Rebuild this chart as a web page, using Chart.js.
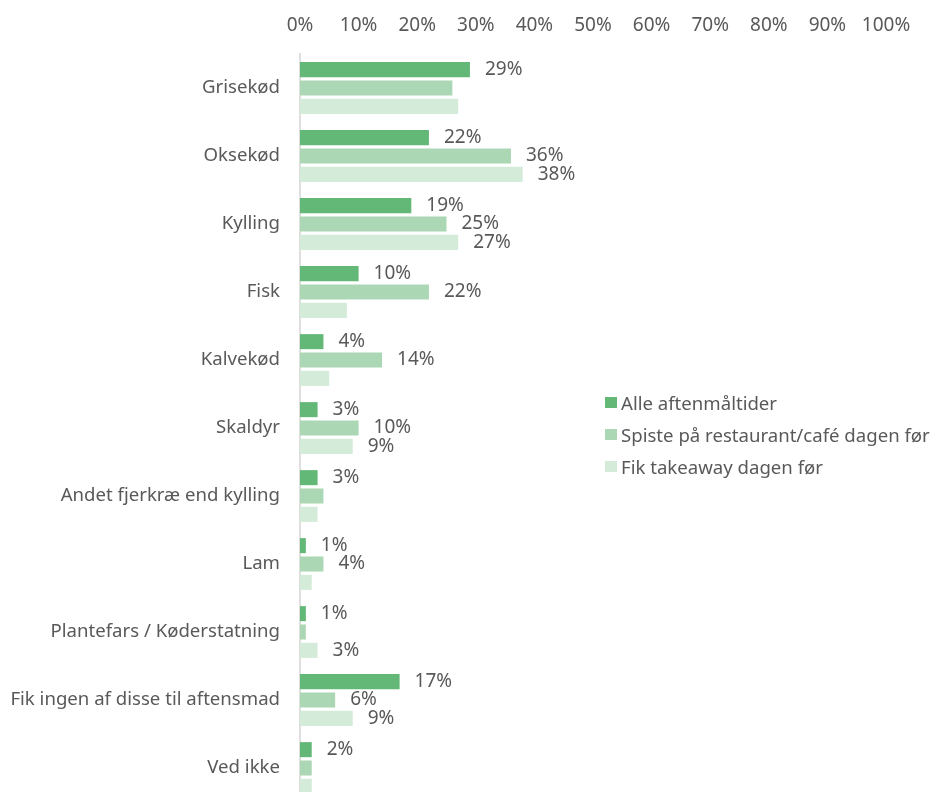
<!DOCTYPE html>
<html lang="da">
<head>
<meta charset="utf-8">
<title>Kødtyper til aftensmad</title>
<script src="https://cdn.jsdelivr.net/npm/chart.js@4.4.1/dist/chart.umd.min.js"></script>
<style>
    html, body { margin: 0; padding: 0; background: #fff; overflow: hidden; }
    #wrap { position: relative; width: 936px; height: 805px; }
    #legend {
        position: absolute; left: 605px; top: 386px;
        font-family: "Noto Sans", sans-serif; font-size: 18.6px; color: #595959;
        white-space: nowrap;
    }
    #legend .item { display: flex; align-items: center; height: 32px; }
    #legend .box { width: 12px; height: 11px; margin-right: 4px; }
</style>
</head>
<body>
<div id="wrap">
    <canvas id="chart" width="936" height="805"></canvas>
    <div id="legend"></div>
</div>
<script>
// 数据
const categories = [
    'Grisekød', 'Oksekød', 'Kylling', 'Fisk', 'Kalvekød', 'Skaldyr',
    'Andet fjerkræ end kylling', 'Lam', 'Plantefars / Køderstatning',
    'Fik ingen af disse til aftensmad', 'Ved ikke'
];
const seriesNames = ['Alle aftenmåltider', 'Spiste på restaurant/café dagen før', 'Fik takeaway dagen før'];
const alleValues       = [29, 22, 19, 10, 4, 3, 3, 1, 1, 17, 2];
const restaurantValues = [26, 36, 25, 22, 14, 10, 4, 4, 1, 6, 2];
const takeawayValues   = [27, 38, 27, 8, 5, 9, 3, 2, 3, 9, 2];
// which bars carry a value label (1 = shown)
const alleLabels       = [1, 1, 1, 1, 1, 1, 1, 1, 1, 1, 1];
const restaurantLabels = [0, 1, 1, 1, 1, 1, 0, 1, 0, 1, 0];
const takeawayLabels   = [0, 1, 1, 0, 0, 1, 0, 0, 1, 1, 0];
const xTicks = [0, 10, 20, 30, 40, 50, 60, 70, 80, 90, 100];

const COLORS = ['#63b877', '#acd7b4', '#d5ebd9'];
const TEXT_COLOR = '#595959';
const FONT = '"Noto Sans", sans-serif';

const seriesValues = [alleValues, restaurantValues, takeawayValues];
const seriesLabels = [alleLabels, restaurantLabels, takeawayLabels];

// 数值标签
const valueLabels = {
    id: 'valueLabels',
    afterDatasetsDraw(chart) {
        const ctx = chart.ctx;
        ctx.save();
        ctx.font = '19px ' + FONT;
        ctx.fillStyle = TEXT_COLOR;
        ctx.textAlign = 'left';
        ctx.textBaseline = 'middle';
        chart.data.datasets.forEach((ds, i) => {
            const meta = chart.getDatasetMeta(i);
            meta.data.forEach((bar, j) => {
                if (!seriesLabels[i][j]) return;
                ctx.fillText(ds.data[j] + '%', bar.x + 15, bar.y);
            });
        });
        ctx.restore();
    }
};

const chart = new Chart(document.getElementById('chart'), {
    type: 'bar',
    data: {
        labels: categories,
        datasets: seriesNames.map((name, i) => ({
            label: name,
            data: seriesValues[i],
            backgroundColor: COLORS[i],
            borderWidth: 0,
            categoryPercentage: 0.81,
            barPercentage: 0.82
        }))
    },
    options: {
        indexAxis: 'y',
        responsive: false,
        animation: false,
        layout: { padding: { top: 14, right: 50, bottom: 3, left: 0 } },
        scales: {
            x: {
                position: 'top',
                min: 0,
                max: 100,
                afterBuildTicks: (scale) => { scale.ticks = xTicks.map(v => ({ value: v })); },
                afterFit: (scale) => {
                    scale.height = 40;
                    scale.paddingLeft = 0;
                    scale.paddingRight = 0;
                },
                grid: { display: false, drawTicks: false },
                border: { display: false },
                ticks: {
                    padding: 17,
                    maxRotation: 0,
                    color: TEXT_COLOR,
                    font: { family: FONT, size: 19 },
                    callback: (v) => v + '%'
                }
            },
            y: {
                afterFit: (scale) => {
                    scale.width = 300;
                    scale.paddingTop = 0;
                    scale.paddingBottom = 0;
                },
                grid: { display: false, drawTicks: false },
                border: { display: true, color: '#dedede', width: 2 },
                ticks: {
                    padding: 20,
                    color: TEXT_COLOR,
                    font: { family: FONT, size: 18.6 }
                }
            }
        },
        plugins: {
            legend: { display: false },
            tooltip: { enabled: false }
        }
    },
    plugins: [valueLabels]
});

// 图例
const legendEl = document.getElementById('legend');
chart.data.datasets.forEach((ds) => {
    const item = document.createElement('div');
    item.className = 'item';
    const box = document.createElement('span');
    box.className = 'box';
    box.style.background = ds.backgroundColor;
    const text = document.createElement('span');
    text.textContent = ds.label;
    item.appendChild(box);
    item.appendChild(text);
    legendEl.appendChild(item);
});
</script>
</body>
</html>
